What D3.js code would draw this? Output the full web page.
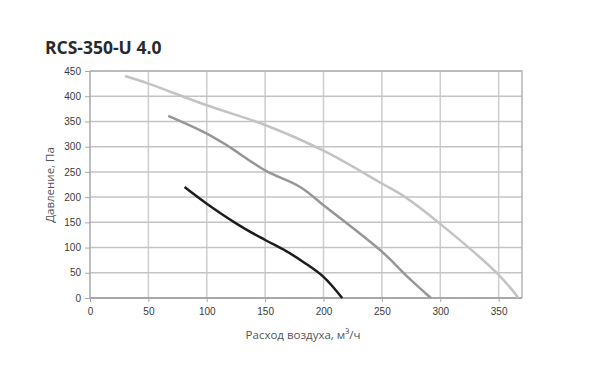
<!DOCTYPE html>
<html>
<head>
<meta charset="utf-8">
<script src="https://cdn.jsdelivr.net/npm/d3@7"></script>
<style>
  body { margin: 0; background: #fff; }
  svg { font-family: "Open Sans", sans-serif; }
  .tick text { fill: #3a3a3a; font-size: 10px; }
</style>
</head>
<body>
<svg id="chart" width="589" height="370"></svg>
<script>
// curves: [flow m3/h, pressure Pa]
var curveLight = [[30, 440], [50, 425], [100, 382], [150, 343], [200, 292], [250, 227], [270, 200], [300, 147], [350, 46], [367, 0]];
var curveMid = [[67, 361], [100, 326], [117, 303], [150, 253], [180, 220], [200, 184], [250, 92], [272, 42], [292, 0]];
var curveDark = [[81, 220], [100, 187], [130, 141], [150, 115], [168, 93], [183, 71], [200, 42], [216, 0]];

var xTicks = [0, 50, 100, 150, 200, 250, 300, 350];
var yTicks = [0, 50, 100, 150, 200, 250, 300, 350, 400, 450];

var title = "RCS-350-U 4.0";
var xTitle = "Расход воздуха, м³/ч";
var yTitle = "Давление, Па";

var svg = d3.select("#chart"),
    margin = {top: 71, right: 67, bottom: 72, left: 90},
    width = 589 - margin.left - margin.right,
    height = 370 - margin.top - margin.bottom;

var g = svg.append("g").attr("transform", "translate(" + margin.left + "," + margin.top + ")");

var x = d3.scaleLinear().domain([0, 370]).range([0, width]);
var y = d3.scaleLinear().domain([0, 450]).range([height, 0]);

// grid
g.selectAll(".vgrid").data(xTicks.slice(1)).enter().append("line")
  .attr("x1", d => x(d)).attr("x2", d => x(d))
  .attr("y1", 0).attr("y2", height)
  .attr("stroke", "#cdcdcd").attr("stroke-width", 1.5);
g.selectAll(".hgrid").data(yTicks.slice(1)).enter().append("line")
  .attr("x1", 0).attr("x2", width)
  .attr("y1", d => y(d)).attr("y2", d => y(d))
  .attr("stroke", "#c4c4c4").attr("stroke-width", 1.5);

// frame top and right
g.append("path")
  .attr("d", "M0," + y(450) + "H" + x(370) + "V" + y(0))
  .attr("fill", "none").attr("stroke", "#b4b4b4").attr("stroke-width", 1.5);

var xAxis = d3.axisBottom(x).tickValues(xTicks).tickSize(4).tickPadding(6);
var yAxis = d3.axisLeft(y).tickValues(yTicks).tickSize(5).tickPadding(4);

var gx = g.append("g").attr("transform", "translate(0," + height + ")").call(xAxis);
gx.select(".domain").attr("d", "M0,0H" + x(370)).attr("stroke", "#a8a8a8").attr("stroke-width", 2);
gx.selectAll(".tick line").attr("stroke", "#a8a8a8");

var gy = g.append("g").call(yAxis);
gy.select(".domain").attr("d", "M0," + height + "V0").attr("stroke", "#a8a8a8").attr("stroke-width", 1.5);
gy.selectAll(".tick line").attr("stroke", "#a8a8a8");

var line = d3.line()
  .x(d => x(d[0]))
  .y(d => y(d[1]))
  .curve(d3.curveCatmullRom.alpha(0.5));

[[curveLight, "#c3c3c3"], [curveMid, "#969696"], [curveDark, "#1c1c1c"]].forEach(function (c) {
  g.append("path")
    .datum(c[0])
    .attr("fill", "none")
    .attr("stroke", c[1])
    .attr("stroke-width", 2.5)
    .attr("d", line);
});

svg.append("text")
  .attr("x", 45).attr("y", 54)
  .attr("font-size", 17.5).attr("font-weight", "bold")
  .attr("fill", "#2a2a2a")
  .text(title);

svg.append("text")
  .attr("x", 303).attr("y", 339)
  .attr("text-anchor", "middle")
  .attr("font-size", 11.5).attr("fill", "#555")
  .text(xTitle);

svg.append("text")
  .attr("transform", "translate(54," + 185 + ") rotate(-90)")
  .attr("text-anchor", "middle")
  .attr("font-size", 11.5).attr("fill", "#555")
  .text(yTitle);
</script>
</body>
</html>
